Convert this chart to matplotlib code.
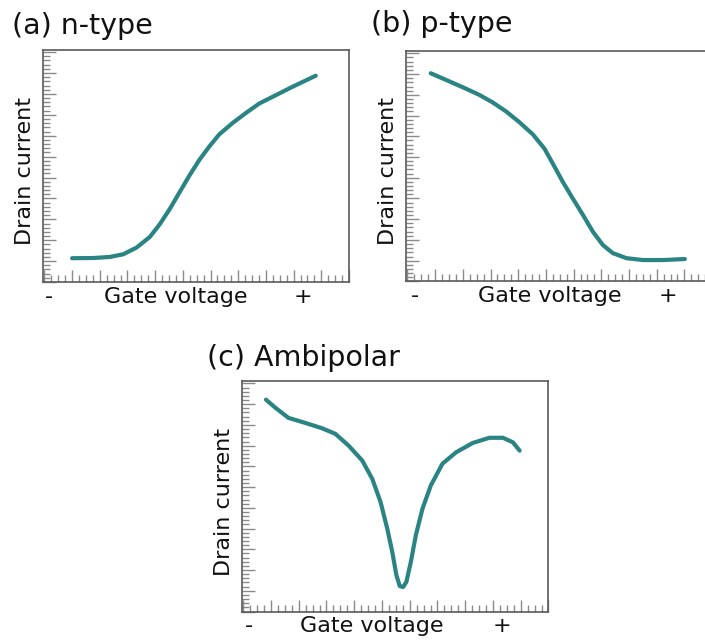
import numpy as np
import matplotlib
matplotlib.use("Agg")
import matplotlib.pyplot as plt
from matplotlib.ticker import MultipleLocator

# curve points (x in gate-voltage grid units, y in current grid units)
n_x = [0.0, 0.77, 1.37, 1.85, 2.33, 2.81, 3.17, 3.53, 3.88, 4.24, 4.60, 4.96, 5.32,
       5.80, 6.28, 6.76, 7.36, 7.96, 8.80]
n_y = [1.14, 1.15, 1.20, 1.33, 1.65, 2.16, 2.77, 3.50, 4.29, 5.10, 5.85, 6.49, 7.07,
       7.61, 8.09, 8.54, 8.94, 9.34, 9.87]

p_x = [-0.16, 0.39, 0.99, 1.59, 2.07, 2.56, 3.04, 3.53, 3.95, 4.25, 4.61, 4.97, 5.34,
       5.70, 6.06, 6.42, 6.91, 7.51, 8.24, 9.02]
p_y = [10.04, 9.72, 9.37, 9.0, 8.64, 8.20, 7.68, 7.09, 6.40, 5.68, 4.80, 4.0, 3.20,
       2.39, 1.75, 1.36, 1.12, 1.03, 1.03, 1.08]

amb_x = [-0.18, 0.14, 0.63, 1.23, 1.84, 2.32, 2.80, 3.29, 3.65, 3.95, 4.19, 4.37, 4.52,
         4.64, 4.76, 4.88, 5.04, 5.22, 5.46, 5.76, 6.18, 6.67, 7.27, 7.87, 8.36, 8.72, 8.96]
amb_y = [10.22, 9.85, 9.34, 9.10, 8.84, 8.57, 8.00, 7.28, 6.40, 5.28, 4.00, 2.88, 1.75,
         1.23, 1.18, 1.43, 2.39, 3.68, 4.96, 6.08, 7.13, 7.68, 8.13, 8.38, 8.38, 8.16, 7.76]

titles = ["(a) n-type", "(b) p-type", "(c) Ambipolar"]

line_color = "#2b8484"

fig = plt.figure(figsize=(7.05, 6.41), dpi=100)

# axes boxes in figure fractions
boxes = [
    [0.061, 0.560, 0.434, 0.362],
    [0.576, 0.561, 0.434, 0.359],
    [0.343, 0.046, 0.435, 0.359],
]
curves = [(n_x, n_y), (p_x, p_y), (amb_x, amb_y)]
title_pos = [(0.017, 0.960), (0.526, 0.962), (0.293, 0.442)]
# label positions in axes coords: gate voltage x, minus x, plus x
label_pos = [(0.433, 0.02, 0.85), (0.47, 0.03, 0.856), (0.424, 0.022, 0.848)]

for i in range(3):
    ax = fig.add_axes(boxes[i])
    ax.plot(curves[i][0], curves[i][1], color=line_color, linewidth=3,
            solid_capstyle="round", solid_joinstyle="round")
    ax.set_xlim(-1.05, 10.0)
    ax.set_ylim(0, 11.1)

    ax.xaxis.set_major_locator(MultipleLocator(1))
    ax.xaxis.set_minor_locator(MultipleLocator(0.25))
    ax.yaxis.set_major_locator(MultipleLocator(1))
    ax.yaxis.set_minor_locator(MultipleLocator(0.2))
    ax.tick_params(which="both", direction="in", colors="#8a8a8a",
                   labelbottom=False, labelleft=False, width=1)
    ax.tick_params(which="major", length=9)
    ax.tick_params(which="minor", length=5)
    for s in ax.spines.values():
        s.set_color("#5a5a5a")
        s.set_linewidth(1.2)

    gx, mx, px = label_pos[i]
    ax.text(gx, -0.065, "Gate voltage", transform=ax.transAxes,
            ha="center", va="center", fontsize=16, color="#111111")
    ax.text(mx, -0.065, "-", transform=ax.transAxes,
            ha="center", va="center", fontsize=16, color="#111111")
    ax.text(px, -0.065, "+", transform=ax.transAxes,
            ha="center", va="center", fontsize=16, color="#111111")
    ax.text(-0.058, 0.478, "Drain current", transform=ax.transAxes,
            ha="center", va="center", rotation=90, fontsize=16, color="#111111")

    fig.text(title_pos[i][0], title_pos[i][1], titles[i], ha="left", va="center",
             fontsize=20.5, color="#111111")

fig.savefig("out.png", dpi=100)
